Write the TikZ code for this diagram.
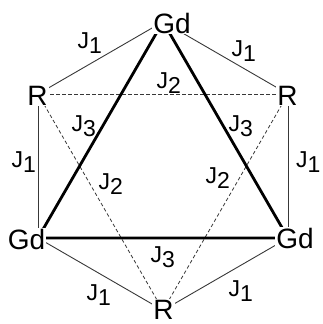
\documentclass[tikz,border=0pt]{standalone}
\usepackage{fontspec}
\setmainfont{Liberation Sans}
\usetikzlibrary{backgrounds}
\tikzset{
  atom/.style={font=\fontsize{28}{30}\selectfont, inner sep=1pt, fill=white, anchor=base},
  jlab/.style={font=\fontsize{23}{26}\selectfont, inner sep=0pt, anchor=base west},
  thinbond/.style={draw=black!78, line width=0.9pt},
  dashbond/.style={draw=black!78, line width=0.8pt, dash pattern=on 3.5pt off 2.5pt},
  thickbond/.style={draw=black, line width=2.8pt}
}
\newcommand{\jj}[1]{J\raisebox{-5pt}{#1}}
\begin{document}
\begin{tikzpicture}[x=1pt,y=-1pt]
\useasboundingbox (0,0) rectangle (322,324);
% lattice vertices
\coordinate (vT)  at (163,21.7);
\coordinate (vRr) at (288,94);
\coordinate (vGr) at (288,238);
\coordinate (vRb) at (163,310.3);
\coordinate (vGl) at (38,238);
\coordinate (vRl) at (38,94);
% atoms
\node[atom] (GdT) at (172,33) {Gd};
\node[atom] (RL)  at (37.5,105) {R};
\node[atom] (RR)  at (287.5,105) {R};
\node[atom] (GdL) at (26.5,249) {Gd};
\node[atom] (GdR) at (295,248.5) {Gd};
\node[atom] (RB)  at (163.5,319) {R};
% bonds
\begin{scope}[on background layer]
  \draw[thinbond] (vT) -- (vRl);
  \draw[thinbond] (vT) -- (vRr);
  \draw[thinbond] (vRl) -- (vGl);
  \draw[thinbond] (vRr) -- (vGr);
  \draw[thinbond] (vGl) -- (vRb);
  \draw[thinbond] (vGr) -- (vRb);
  \draw[dashbond] (vRl) -- (vRr);
  \draw[dashbond] (vRl) -- (vRb);
  \draw[dashbond] (vRr) -- (vRb);
  \draw[thickbond] (vT) -- (vGl) -- (vGr) -- cycle;
\end{scope}
% exchange labels
\node[jlab] (j1a) at (77.5,48.5)  {\jj{1}};
\node[jlab] (j1b) at (231.5,56.5) {\jj{1}};
\node[jlab] (j2a) at (156.5,88.5) {\jj{2}};
\node[jlab] (j3a) at (71.5,131.5) {\jj{3}};
\node[jlab] (j3b) at (228.5,131.5) {\jj{3}};
\node[jlab] (j1c) at (11.5,167.5) {\jj{1}};
\node[jlab] (j1d) at (296,167.5)  {\jj{1}};
\node[jlab] (j2b) at (98.5,189.5) {\jj{2}};
\node[jlab] (j2c) at (205.5,183.5) {\jj{2}};
\node[jlab] (j3c) at (150.5,262.5) {\jj{3}};
\node[jlab] (j1e) at (86.5,300.5) {\jj{1}};
\node[jlab] (j1f) at (228.5,296.5) {\jj{1}};
\end{tikzpicture}
\end{document}
